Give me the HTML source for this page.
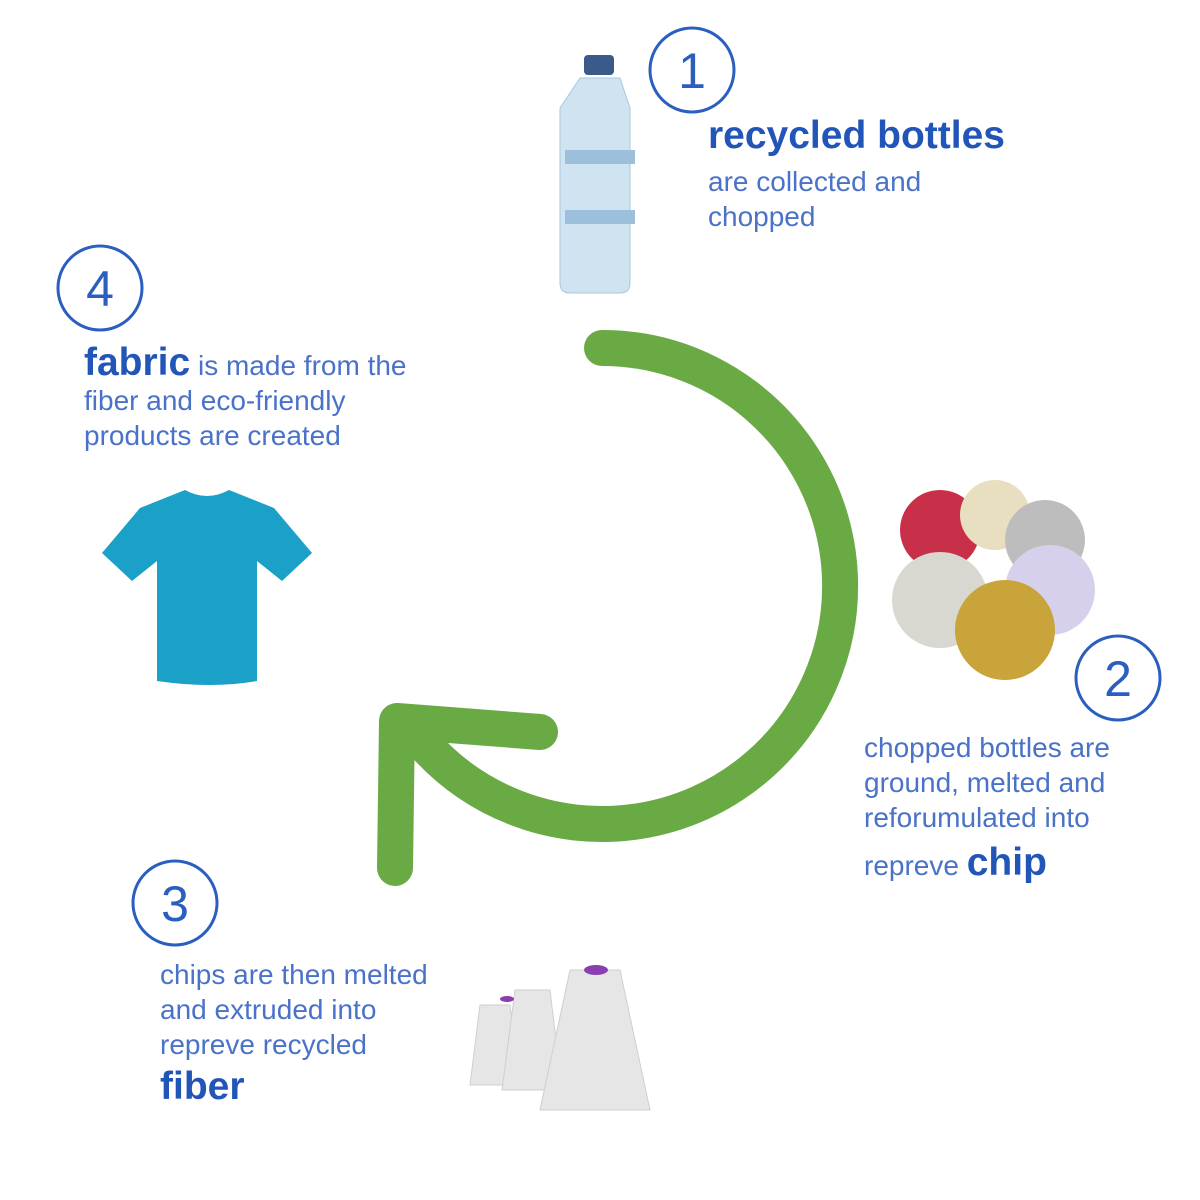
<!DOCTYPE html>
<html><head><style>
body{margin:0;width:1200px;height:1200px;background:#fff;font-family:"Liberation Sans",sans-serif;position:relative;overflow:hidden}
.t{position:absolute;color:#4a72c8;font-size:28px;line-height:35px}
.b{color:#2255b8;font-weight:bold}
</style></head><body>
<svg width="1200" height="1200" style="position:absolute;left:0;top:0">
<g fill="none" stroke="#2a5fc0" stroke-width="3">
<circle cx="692" cy="70" r="42"/><circle cx="100" cy="288" r="42"/>
<circle cx="1118" cy="678" r="42"/><circle cx="175" cy="903" r="42"/>
</g>
<g font-family="Liberation Sans,sans-serif" font-size="50" fill="#2a5fc0" text-anchor="middle">
<text x="692" y="88">1</text><text x="100" y="306">4</text><text x="1118" y="696">2</text><text x="175" y="921">3</text>
</g>
<g fill="none" stroke="#6aaa45" stroke-width="36" stroke-linecap="round" stroke-linejoin="round">
<path d="M602,348 A238,238 0 1 1 425,745"/>
<path d="M540,732 L397,721 L395,868"/>
</g>
<!-- bottle -->
<rect x="584" y="55" width="30" height="20" rx="4" fill="#3a5a8a"/>
<path d="M580,78 h40 l10,30 v175 q0,10 -10,10 h-50 q-10,0 -10,-10 v-175 z" fill="#cfe3f0" stroke="#a9c9df"/>
<rect x="565" y="150" width="70" height="14" fill="#9cc0dc"/><rect x="565" y="210" width="70" height="14" fill="#9cc0dc"/>
<!-- chips -->
<circle cx="940" cy="530" r="40" fill="#c8304a"/><circle cx="995" cy="515" r="35" fill="#e8dfc0"/>
<circle cx="1045" cy="540" r="40" fill="#bdbdbd"/><circle cx="940" cy="600" r="48" fill="#d8d8d0"/>
<circle cx="1050" cy="590" r="45" fill="#d6d0ec"/><circle cx="1005" cy="630" r="50" fill="#c9a43a"/>
<!-- tshirt -->
<path d="M185,490 q22,12 44,0 l45,18 l38,45 l-30,28 l-25,-20 v120 q-45,8 -100,0 v-120 l-25,20 l-30,-28 l38,-45 z" fill="#1ba0c8"/>
<!-- spools -->
<g fill="#e6e6e6" stroke="#cfcfcf">
<path d="M480,1005 h30 l10,80 h-50 z"/><path d="M515,990 h35 l12,100 h-60 z"/>
<path d="M570,970 h50 l30,140 h-110 z"/>
</g>
<ellipse cx="596" cy="970" rx="12" ry="5" fill="#8a3fb0"/><ellipse cx="507" cy="999" rx="7" ry="3" fill="#8a3fb0"/>
</svg>
<div class="t" style="left:708px;top:118px;width:400px"><span class="b" style="font-size:39px">recycled bottles</span><br><span style="display:block;margin-top:8px">are collected and<br>chopped</span></div>
<div class="t" style="left:84px;top:345px;width:400px"><span class="b" style="font-size:39px">fabric</span> is made from the<br>fiber and eco-friendly<br>products are created</div>
<div class="t" style="left:864px;top:730px;width:330px">chopped bottles are<br>ground, melted and<br>reforumulated into<br><span style="position:relative;top:10px">repreve <span class="b" style="font-size:39px">chip</span></span></div>
<div class="t" style="left:160px;top:957px;width:330px">chips are then melted<br>and extruded into<br>repreve recycled<br><span class="b" style="font-size:39px;line-height:50px">fiber</span></div>
</body></html>
